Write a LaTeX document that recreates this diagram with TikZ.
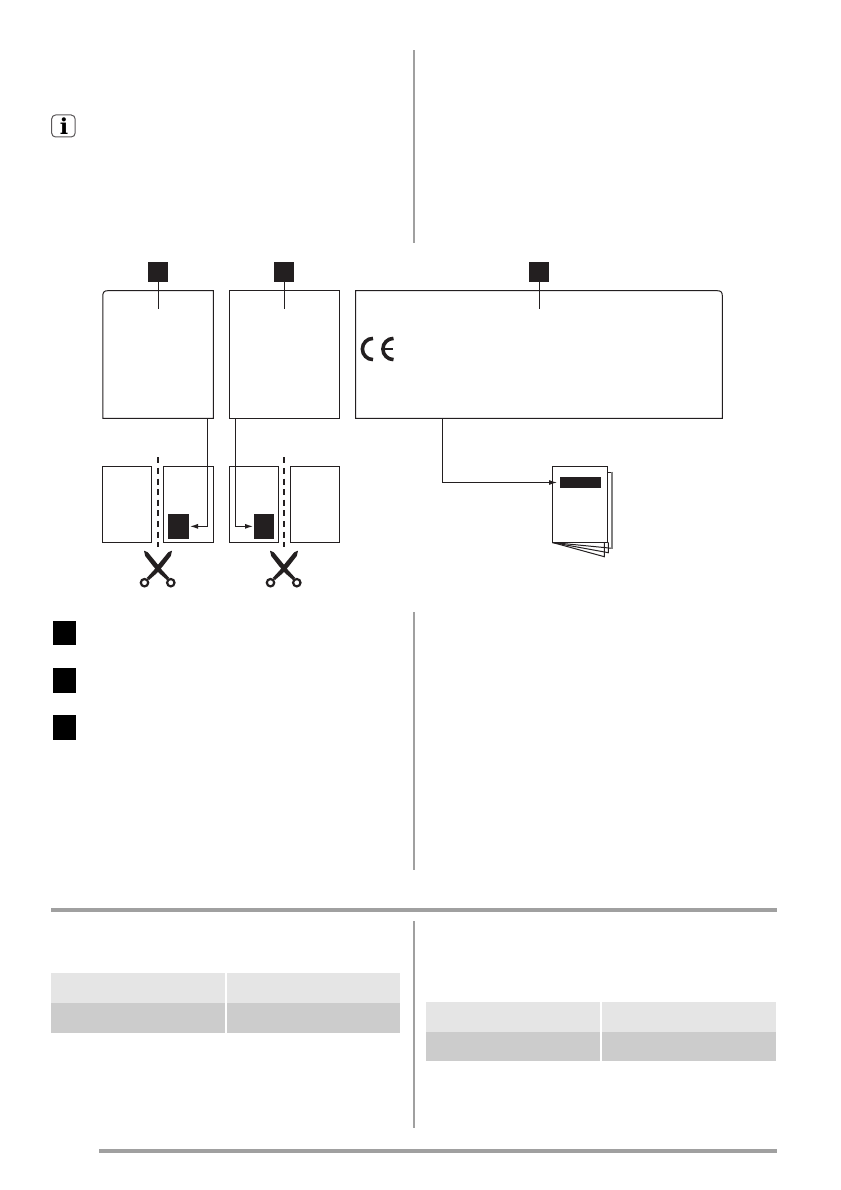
\documentclass[tikz,border=0pt]{standalone}
\usepackage{fontspec}
\newfontfamily\iconfont{DejaVu Serif}
\usetikzlibrary{arrows.meta}
\definecolor{ink}{HTML}{231F20}
\definecolor{rulegrey}{HTML}{A0A0A0}
\definecolor{celllight}{HTML}{E5E5E5}
\definecolor{celldark}{HTML}{CCCCCC}
\tikzset{
  boxbase/.style={rectangle,inner sep=0pt,outer sep=0pt},
  pagebox/.style={boxbase,draw=ink,line width=1pt},
  plainbox/.style={boxbase},
  blackbox/.style={boxbase,fill=ink},
  listbox/.style={boxbase,fill=black},
  lightcell/.style={boxbase,fill=celllight},
  darkcell/.style={boxbase,fill=celldark},
  rulebar/.style={boxbase,fill=rulegrey},
  outline/.style={draw=ink,line width=1pt},
  leader/.style={draw=ink,line width=1pt},
  conn/.style={draw=ink,line width=1pt,-{Latex[length=8pt,width=5pt]}},
  cutline/.style={draw=ink,line width=2pt,dash pattern=on 6pt off 4.6pt},
  sheet/.style={draw=ink,line width=1pt},
  cemark/.style={draw=ink,line width=3.6pt},
}
\newcommand{\rectnode}[6]{%
  \pgfmathsetmacro{\rw}{#5-#3}\pgfmathsetmacro{\rh}{#6-#4}%
  \pgfmathsetmacro{\rx}{(#3+#5)/2}\pgfmathsetmacro{\ry}{(#4+#6)/2}%
  \node[#2,minimum width=\rw pt,minimum height=\rh pt] (#1) at (\rx,\ry) {};}
\newcommand{\scissorsat}[2]{%
  \begin{scope}[shift={(#1,#2)}]
    \fill[ink] (-14,-19.3) -- (-10.3,-17.8) -- (-1,-6.5) -- (4,0) -- (11.3,8) -- (9,10) -- (1,3) -- (-5,-4) -- (-12.8,-14) -- cycle;
    \fill[ink] (14,-19.3) -- (10.3,-17.8) -- (1,-6.5) -- (-4,0) -- (-11.3,8) -- (-9,10) -- (-1,3) -- (5,-4) -- (12.8,-14) -- cycle;
    \draw[ink,line width=2.2pt] (-13.5,12.7) circle[radius=3.7pt];
    \draw[ink,line width=2.2pt] (12.8,12.7) circle[radius=3.7pt];
  \end{scope}}
\begin{document}
\begin{tikzpicture}[x=1pt,y=1pt,yscale=-1]
\fill[white] (0,0) rectangle (840,1190);
\useasboundingbox (0,0) rectangle (840,1190);

% column and page rules
\rectnode{ruleA}{rulebar}{413}{50}{415}{243}
\rectnode{ruleB}{rulebar}{413}{612}{415}{870}
\rectnode{ruleC}{rulebar}{413}{921}{415}{1128}
\rectnode{ruleTop}{rulebar}{51}{908}{777}{912}
\rectnode{ruleBottom}{rulebar}{98.5}{1149}{777}{1153}

% info icon
\node[boxbase,draw=ink!75,line width=1pt,rounded corners=4pt,minimum width=23.5pt,minimum height=22pt] (info) at (63.4,126) {};
\node[inner sep=0pt] (infoI) at (64,125.7) {\fontsize{22}{22}\iconfont\bfseries i};

% rating plate boxes
\rectnode{plateA}{plainbox}{102.8}{290.7}{213.4}{418.3}
\rectnode{plateB}{pagebox}{229.2}{290.7}{339.7}{418.3}
\rectnode{plateC}{plainbox}{355.7}{290.7}{722.3}{418.3}
\draw[outline] (plateA.north east) -- ([xshift=5pt]plateA.north west)
  .. controls ([xshift=1.5pt]plateA.north west) and ([yshift=1.5pt]plateA.north west) .. ([yshift=5pt]plateA.north west)
  -- (plateA.south west) -- (plateA.south east) -- cycle;
\draw[outline] (plateC.north west) -- ([xshift=-5pt]plateC.north east)
  .. controls ([xshift=-1.5pt]plateC.north east) and ([yshift=1.5pt]plateC.north east) .. ([yshift=5pt]plateC.north east)
  -- (plateC.south east) -- (plateC.south west) -- cycle;

% numbered tags and leaders
\rectnode{tagA}{blackbox}{148}{262}{168}{282}
\rectnode{tagB}{blackbox}{274}{262}{294}{282}
\rectnode{tagC}{blackbox}{529}{262}{549}{282}
\coordinate (endA) at (158,308.7);
\coordinate (endB) at (284,308.7);
\coordinate (endC) at (539,308.7);
\draw[leader] (tagA.south) -- (endA);
\draw[leader] (tagB.south) -- (endB);
\draw[leader] (tagC.south) -- (endC);

% CE mark
\draw[cemark] (373,338.4) arc[start angle=-90,end angle=-270,radius=10.6pt];
\draw[cemark] (393.5,338.4) arc[start angle=-90,end angle=-270,radius=10.6pt];
\draw[ink,line width=2.8pt] (383,349) -- (393,349);

% booklet pages
\rectnode{pageA}{pagebox}{102.7}{466.3}{151.7}{542.3}
\rectnode{pageB}{pagebox}{163.3}{466.3}{213.7}{542.3}
\rectnode{pageC}{pagebox}{229.3}{466.3}{278.3}{542.3}
\rectnode{pageD}{pagebox}{290.3}{466.3}{339.7}{542.3}
\rectnode{markA}{blackbox}{168}{514}{189}{538.7}
\rectnode{markB}{blackbox}{254}{514}{274}{538.7}

% cut lines and scissors
\coordinate (cutAtop) at (158,457.3);
\coordinate (cutAbot) at (158,546.7);
\coordinate (cutBtop) at (284,457.3);
\coordinate (cutBbot) at (284,546.7);
\draw[cutline] (cutAtop) -- (cutAbot);
\draw[cutline] (cutBtop) -- (cutBbot);
\scissorsat{158}{570}
\scissorsat{284}{570}

% instruction booklet
\draw[sheet] (552.5,542.5) -- (612,548.3);
\draw[sheet] (607.7,472) -- (612,472);
\draw[rulegrey!80!black,line width=1.4pt] (612,471.6) -- (612,548.6);
\draw[sheet] (552.5,542.5) -- (608.3,552.7) -- (608.3,542.3);
\draw[sheet] (552.5,542.5) -- (604.3,556.7) -- (604.3,542.3);
\rectnode{docFront}{pagebox,fill=white}{552.3}{466.3}{607.7}{542.3}
\rectnode{docBar}{blackbox}{560}{477}{601}{488}

% connectors
\draw[conn,shorten >=1pt] ([xshift=49pt]plateA.south) |- (markA.east);
\draw[conn,shorten >=1pt] ([xshift=-49.2pt]plateB.south) |- (markB.west);
\draw[conn,shorten >=3pt] ([xshift=-96.7pt]plateC.south) |- (docBar.west);

% list squares
\rectnode{listA}{listbox}{53}{621}{76}{645}
\rectnode{listB}{listbox}{53}{668}{76}{693}
\rectnode{listC}{listbox}{53}{715}{76}{740}

% tables
\rectnode{lTabA}{lightcell}{51}{973}{225}{1003}
\rectnode{lTabB}{lightcell}{227}{973}{400}{1003}
\rectnode{lTabC}{darkcell}{51}{1003}{225}{1033}
\rectnode{lTabD}{darkcell}{227}{1003}{400}{1033}
\rectnode{rTabA}{lightcell}{426}{1002}{600}{1032}
\rectnode{rTabB}{lightcell}{602}{1002}{776}{1032}
\rectnode{rTabC}{darkcell}{426}{1032}{600}{1061}
\rectnode{rTabD}{darkcell}{602}{1032}{776}{1061}
\end{tikzpicture}
\end{document}
